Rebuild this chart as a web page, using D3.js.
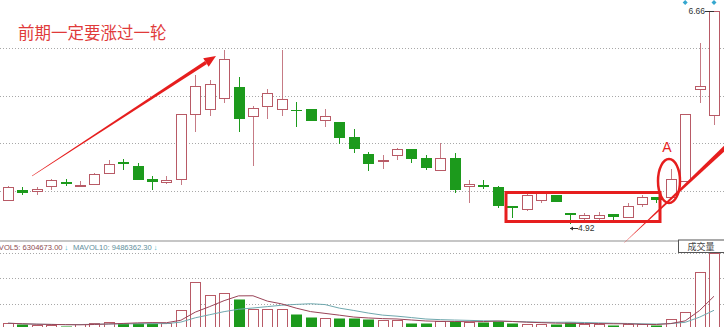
<!DOCTYPE html>
<html>
<head>
<meta charset="utf-8">
<script src="https://cdn.jsdelivr.net/npm/d3@7"></script>
<style>
  body { margin: 0; background: #fff; }
  svg { display: block; }
</style>
</head>
<body>
<svg id="chart" width="724" height="327"></svg>
<script>
// daily candles, oldest first
var open  = [5.12,5.20,5.19,5.23,5.26,5.24,5.25,5.34,5.43,5.39,5.29,5.26,5.29,5.82,5.86,5.95,6.04,5.80,5.88,5.86,
             5.85,5.86,5.77,5.75,5.63,5.49,5.44,5.48,5.53,5.46,5.36,5.46,5.23,5.24,5.22,5.07,5.04,5.12,5.16,5.01,
             4.97,4.97,5.00,4.98,5.08,5.14,5.14,5.27,6.02,5.81];
var high  = [5.23,5.22,5.22,5.29,5.29,5.27,5.34,5.44,5.45,5.42,5.31,5.31,5.82,6.14,6.10,6.34,6.12,5.88,6.02,6.34,
             5.92,5.86,5.86,5.75,5.70,5.51,5.48,5.54,5.53,5.48,5.58,5.50,5.28,5.28,5.23,5.07,5.17,5.18,5.16,5.01,
             5.01,5.02,5.00,5.09,5.16,5.14,5.37,5.82,6.40,6.66];
var low   = [5.11,5.16,5.16,5.20,5.23,5.22,5.24,5.34,5.36,5.28,5.20,5.25,5.24,5.67,5.80,5.91,5.67,5.39,5.78,5.80,
             5.71,5.76,5.71,5.57,5.50,5.35,5.37,5.44,5.42,5.36,5.36,5.17,5.09,5.21,5.05,4.97,5.03,5.09,5.10,4.92,
             4.94,4.94,4.94,4.97,5.06,5.09,5.14,5.27,5.91,5.73];
var close = [5.22,5.17,5.21,5.28,5.25,5.24,5.33,5.41,5.41,5.28,5.26,5.28,5.82,6.05,6.06,6.27,5.78,5.87,5.99,5.94,
             5.84,5.76,5.80,5.62,5.53,5.41,5.44,5.53,5.45,5.38,5.46,5.20,5.25,5.22,5.07,5.05,5.16,5.17,5.10,4.99,
             4.99,4.99,4.98,5.07,5.14,5.12,5.29,5.82,6.05,6.66];
// volume, millions of shares
var volume = [2.2,1.8,1.5,1.5,1.3,1.9,2.4,2.6,2.4,2.4,2.4,2.2,7.3,17.9,13.0,13.7,11.3,7.5,7.7,7.7,
              5.6,4.7,4.1,4.3,4.1,3.9,3.4,3.4,2.4,2.2,3.2,3.2,2.8,2.8,3.1,2.4,1.9,1.9,1.9,2.8,
              1.9,1.9,1.5,1.8,1.8,1.5,3.8,6.6,21.6,29.0];
var signalDays = [47, 49];
var title = "前期一定要涨过一轮";
var mavolLabels = ["MAVOL5: 6304673.00", "MAVOL10: 9486362.30"];

var upColor = "#b85a66";
var downColor = "#1c9a1c";
var red = "#e61e1e";

var svg = d3.select("#chart");
var width = 724;
var mainBottom = 239;

var x = d3.scaleLinear().domain([0, close.length - 1]).range([8, 714]);
var y = d3.scaleLinear().domain([d3.min(low), d3.max(high)]).range([224, 11]);
var vy = d3.scaleLinear().domain([0, d3.max(volume)]).range([329, 253]);

function px(v) { return Math.round(v) + 0.5; }

// grid lines
var grid = svg.append("g");
d3.range(1, 5).forEach(function(k) {
  grid.append("line")
    .attr("x1", 0).attr("x2", width)
    .attr("y1", px(mainBottom * k / 5)).attr("y2", px(mainBottom * k / 5))
    .attr("stroke", "#a8a8a8").attr("stroke-dasharray", "1,2");
});
d3.range(1, 4).forEach(function(k) {
  var gy = px(vy(d3.max(volume) * k / 3));
  grid.append("line")
    .attr("x1", 0).attr("x2", width)
    .attr("y1", gy).attr("y2", gy)
    .attr("stroke", "#a8a8a8").attr("stroke-dasharray", "1,2");
});

// separator
svg.append("line")
  .attr("x1", 0).attr("x2", width)
  .attr("y1", 241).attr("y2", 241)
  .attr("stroke", "#c6c6c6").attr("stroke-width", 2);

var days = d3.range(close.length);

// candles
var candles = svg.append("g").selectAll("g")
  .data(days)
  .enter()
  .append("g");

candles.append("line")
  .attr("x1", function(i){ return px(x(i)); })
  .attr("x2", function(i){ return px(x(i)); })
  .attr("y1", function(i){ return Math.round(y(high[i])); })
  .attr("y2", function(i){ return Math.round(y(low[i])); })
  .attr("stroke", function(i){ return close[i] >= open[i] ? upColor : downColor; })
  .attr("stroke-opacity", function(i){ return close[i] >= open[i] ? 0.8 : 1; });

candles.append("rect")
  .attr("x", function(i){ return close[i] >= open[i] ? Math.round(x(i)) - 5 + 0.5 : Math.round(x(i)) - 5; })
  .attr("width", function(i){ return close[i] >= open[i] ? 10 : 11; })
  .attr("y", function(i){
    var t = Math.round(y(Math.max(open[i], close[i])));
    return close[i] >= open[i] ? t + 0.5 : t;
  })
  .attr("height", function(i){
    var h = Math.round(y(Math.min(open[i], close[i]))) - Math.round(y(Math.max(open[i], close[i])));
    return Math.max(h, 1);
  })
  .attr("fill", function(i){ return close[i] >= open[i] ? "#fff" : downColor; })
  .attr("stroke", function(i){ return close[i] >= open[i] ? upColor : "none"; });

// volume bars
svg.append("g").selectAll("rect")
  .data(days)
  .enter()
  .append("rect")
  .attr("x", function(i){ return close[i] >= open[i] ? Math.round(x(i)) - 5 + 0.5 : Math.round(x(i)) - 5; })
  .attr("width", function(i){ return close[i] >= open[i] ? 10 : 11; })
  .attr("y", function(i){ return Math.round(vy(volume[i])) + 0.5; })
  .attr("height", function(i){ return 329 - Math.round(vy(volume[i])) + 5; })
  .attr("fill", function(i){ return close[i] >= open[i] ? "#fff" : downColor; })
  .attr("stroke", function(i){ return close[i] >= open[i] ? upColor : "none"; });

// volume moving averages
function movingAvg(n) {
  return volume.map(function(v, i) {
    return d3.mean(volume.slice(Math.max(0, i - n + 1), i + 1));
  });
}
var volLine = d3.line()
  .x(function(d, i){ return x(i); })
  .y(function(d){ return vy(d); });
svg.append("path").datum(movingAvg(10))
  .attr("d", volLine).attr("fill", "none")
  .attr("stroke", "#6fa8ae").attr("stroke-width", 1);
svg.append("path").datum(movingAvg(5))
  .attr("d", volLine).attr("fill", "none")
  .attr("stroke", "#9a4458").attr("stroke-width", 1);

// volume header
var vt = svg.append("text")
  .attr("x", -12).attr("y", 250)
  .attr("font-family", "Liberation Sans, Arial, sans-serif")
  .attr("font-size", 7.6);
vt.append("tspan").attr("fill", "#8c4a50").text(mavolLabels[0]);
vt.append("tspan").attr("fill", "#3fb6c8").attr("dx", 2).text("↓");
vt.append("tspan").attr("x", 73).attr("fill", "#5f8f9c").text(mavolLabels[1]);
vt.append("tspan").attr("fill", "#3fb6c8").attr("dx", 2).text("↓");

svg.append("rect")
  .attr("x", 678.5).attr("y", 240).attr("width", 50).attr("height", 12.5)
  .attr("fill", "#fff").attr("stroke", "#555");
svg.append("text")
  .attr("x", 701).attr("y", 250)
  .attr("text-anchor", "middle")
  .attr("font-family", "Noto Sans CJK SC, sans-serif")
  .attr("font-size", 9).attr("fill", "#444")
  .text("成交量");

// high / low labels
var hiIdx = d3.maxIndex(high), loIdx = d3.minIndex(low);
var hx = Math.round(x(hiIdx)), hy = Math.round(y(high[hiIdx]));
svg.append("line")
  .attr("x1", hx - 9).attr("x2", hx).attr("y1", hy + 0.5).attr("y2", hy + 0.5)
  .attr("stroke", "#333");
svg.append("text")
  .attr("x", hx - 9).attr("y", hy + 3)
  .attr("text-anchor", "end")
  .attr("font-family", "Liberation Sans, Arial, sans-serif")
  .attr("font-size", 8.5).attr("fill", "#333")
  .text(high[hiIdx].toFixed(2));

var lx = Math.round(x(loIdx)), ly = Math.round(y(low[loIdx])) + 4;
svg.append("line")
  .attr("x1", lx).attr("x2", lx + 8).attr("y1", ly + 0.5).attr("y2", ly + 0.5)
  .attr("stroke", "#333");
svg.append("path")
  .attr("d", "M" + lx + "," + (ly + 0.5) + "l3,-2v4z")
  .attr("fill", "#333");
svg.append("text")
  .attr("x", lx + 8).attr("y", ly + 3)
  .attr("font-family", "Liberation Sans, Arial, sans-serif")
  .attr("font-size", 8.5).attr("fill", "#333")
  .text(low[loIdx].toFixed(2));

// signal markers
svg.append("g").selectAll("path")
  .data(signalDays)
  .enter()
  .append("path")
  .attr("d", function(i){ var cx = x(i); return "M" + cx + ",0l2.5,2.5l-2.5,2.5l-2.5,-2.5z"; })
  .attr("fill", "#35a7cf");

// annotations
function taper(x1, y1, w1, x2, y2, w2) {
  var dx = x2 - x1, dy = y2 - y1, len = Math.sqrt(dx * dx + dy * dy);
  var nx = -dy / len, ny = dx / len;
  return [[x1 + nx * w1 / 2, y1 + ny * w1 / 2], [x2 + nx * w2 / 2, y2 + ny * w2 / 2],
          [x2 - nx * w2 / 2, y2 - ny * w2 / 2], [x1 - nx * w1 / 2, y1 - ny * w1 / 2]];
}
var ann = svg.append("g");

ann.append("text")
  .attr("x", 18).attr("y", 39)
  .attr("font-family", "Noto Sans CJK SC, sans-serif")
  .attr("font-size", 16.5).attr("fill", "#e03a3a")
  .text(title);

// rising arrow
var tip = [216, 56], tail = [32, 176];
var ux = (tip[0] - tail[0]), uy = (tip[1] - tail[1]);
var ul = Math.sqrt(ux * ux + uy * uy); ux /= ul; uy /= ul;
var base = [tip[0] - ux * 12, tip[1] - uy * 12];
ann.append("polygon")
  .attr("points", taper(tail[0], tail[1], 0.3, base[0], base[1], 3.6).join(" "))
  .attr("fill", red);
ann.append("polygon")
  .attr("points", [tip, [base[0] - uy * 5, base[1] + ux * 5], [base[0] + uy * 5, base[1] - ux * 5]].join(" "))
  .attr("fill", red);

// breakout line on the right
ann.append("polygon")
  .attr("points", taper(624, 243, 0.3, 728, 145, 4.6).join(" "))
  .attr("fill", red);

ann.append("rect")
  .attr("x", 506).attr("y", 192.5).attr("width", 154).attr("height", 29)
  .attr("fill", "none").attr("stroke", red).attr("stroke-width", 3);

ann.append("ellipse")
  .attr("cx", 669).attr("cy", 181).attr("rx", 11).attr("ry", 22)
  .attr("fill", "none").attr("stroke", red).attr("stroke-width", 2.5);

ann.append("text")
  .attr("x", 667).attr("y", 152)
  .attr("text-anchor", "middle")
  .attr("font-family", "Liberation Sans, Arial, sans-serif")
  .attr("font-size", 14).attr("fill", red)
  .text("A");
</script>
</body>
</html>
